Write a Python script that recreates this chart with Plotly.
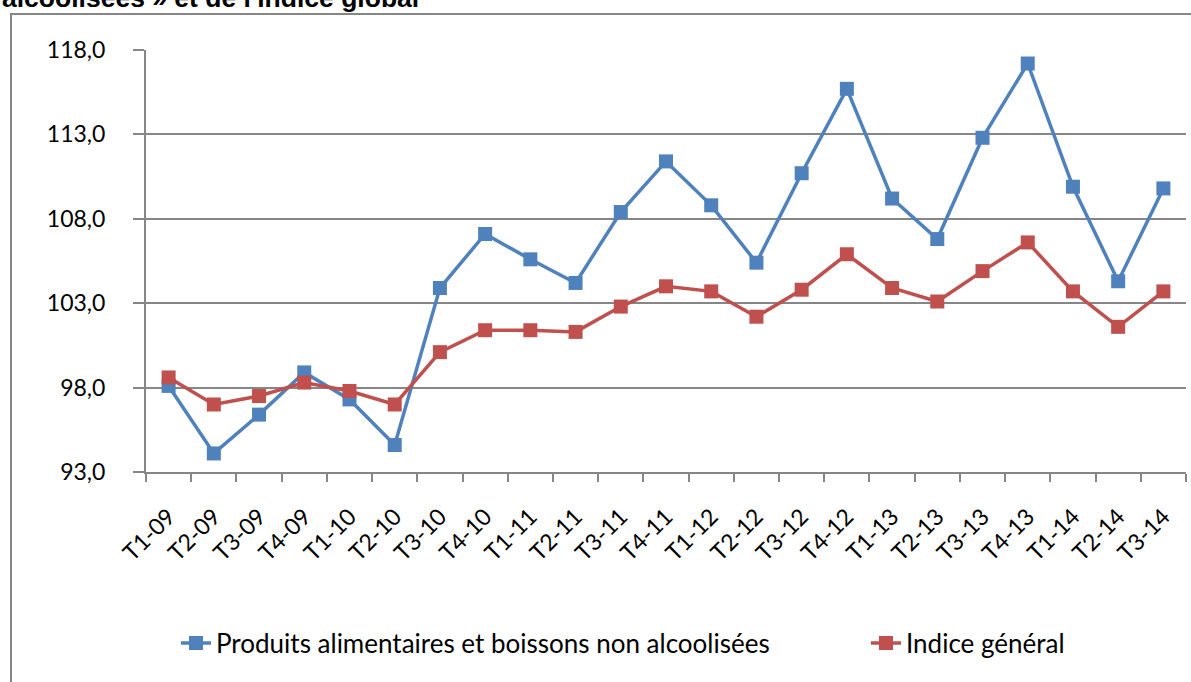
import plotly.graph_objects as go

categories = ["T1-09", "T2-09", "T3-09", "T4-09", "T1-10", "T2-10", "T3-10", "T4-10",
              "T1-11", "T2-11", "T3-11", "T4-11", "T1-12", "T2-12", "T3-12", "T4-12",
              "T1-13", "T2-13", "T3-13", "T4-13", "T1-14", "T2-14", "T3-14"]

alimentaires = [98.1, 94.1, 96.4, 98.9, 97.3, 94.6, 103.9, 107.1, 105.6, 104.2, 108.4, 111.4,
                108.8, 105.4, 110.7, 115.7, 109.2, 106.8, 112.8, 117.2, 109.9, 104.3, 109.8]

indice_general = [98.6, 97.0, 97.5, 98.3, 97.8, 97.0, 100.1, 101.4, 101.4, 101.3, 102.8, 104.0,
                  103.7, 102.2, 103.8, 105.9, 103.9, 103.1, 104.9, 106.6, 103.7, 101.6, 103.7]

y_ticks = [93, 98, 103, 108, 113, 118]

name_a = "Produits alimentaires et boissons non alcoolisées"
name_b = "Indice général"
title_visible = "alcoolisées » et de l'indice global"

W, H = 1191, 682
L, R, T, B = 146, 5, 50, 210
pw, ph = W - L - R, H - T - B
grey = "#868686"
font = "Lato"

fig = go.Figure()
fig.add_trace(go.Scatter(x=categories, y=alimentaires, name=name_a, mode="lines+markers",
                         line=dict(color="#4F81BD", width=3.5),
                         marker=dict(symbol="square", size=14, color="#4F81BD"),
                         legend="legend"))
fig.add_trace(go.Scatter(x=categories, y=indice_general, name=name_b, mode="lines+markers",
                         line=dict(color="#C0504D", width=3.5),
                         marker=dict(symbol="square", size=14, color="#C0504D"),
                         legend="legend2"))

legend_y = (H - B - 643) / ph
legend_common = dict(orientation="h", xanchor="left", y=legend_y, yanchor="middle",
                     font=dict(family=font, size=26, color="black"),
                     bgcolor="rgba(0,0,0,0)")

fig.update_layout(
    width=W, height=H,
    margin=dict(l=L, r=R, t=T, b=B, autoexpand=False),
    paper_bgcolor="white", plot_bgcolor="white",
    separators=", ",
    font=dict(family=font, size=22, color="black"),
    showlegend=True,
    legend=dict(x=(176 - L) / pw, **legend_common),
    legend2=dict(x=(866 - L) / pw, **legend_common),
    xaxis=dict(type="category", range=[-0.5, len(categories) - 0.5],
               showline=True, linecolor=grey, linewidth=2,
               ticks="outside", tickson="boundaries", ticklen=8, tickcolor=grey, tickwidth=2,
               tickangle=-45, showgrid=False, zeroline=False,
               tickfont=dict(family=font, size=23, color="black"),
               ticklabelstandoff=20),
    yaxis=dict(range=[93, 118], tickvals=y_ticks, tickformat=".1f",
               showline=True, linecolor=grey, linewidth=2,
               ticks="outside", ticklen=11, tickcolor=grey, tickwidth=2,
               showgrid=True, gridcolor=grey, gridwidth=2, zeroline=False,
               tickfont=dict(family=font, size=23, color="black"),
               ticklabelstandoff=23),
)

fig.add_shape(type="rect", xref="paper", yref="paper", layer="below",
              x0=(11 - L) / pw, x1=(W + 10 - L) / pw,
              y0=(H - B - (H + 10)) / ph, y1=(H - B - 14) / ph,
              line=dict(color=grey, width=2), fillcolor="rgba(0,0,0,0)")

fig.add_annotation(text=title_visible, xref="paper", yref="paper",
                   x=(0 - L) / pw, xanchor="left", y=1, yanchor="middle",
                   yshift=T + 2.5, showarrow=False,
                   font=dict(family="Liberation Sans", size=26.5, color="black", weight="bold"))

fig.write_html("out.html", config={"displayModeBar": False},
               post_script="document.body.style.margin='0';document.body.style.overflow='hidden';")
